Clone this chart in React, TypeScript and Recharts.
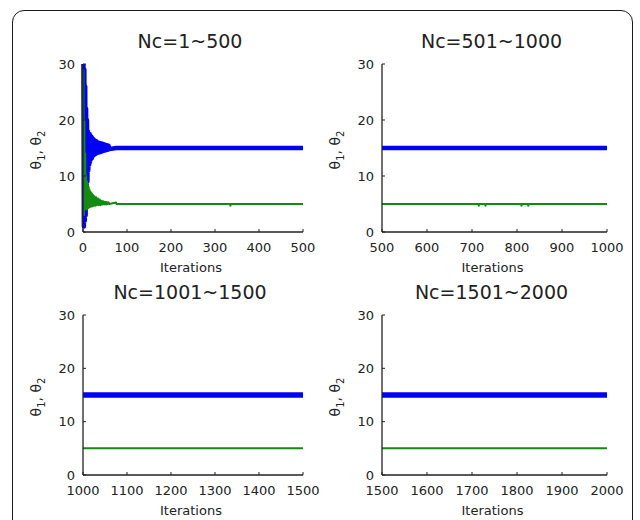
import { LineChart, Line, XAxis, YAxis } from "recharts";

const FONT = "'DejaVu Sans', Verdana, sans-serif";
const BLUE = "#0000f2";
const GREEN = "#138a13";
const INK = "#222";

const p1Iter = [
  1, 2, 3, 4, 5, 6, 7, 8, 9, 10, 11, 12, 13, 14, 15, 16, 17, 18, 19, 20, 21, 22,
  23, 24, 26, 28, 30, 32, 34, 36, 38, 40, 42, 44, 46, 48, 50, 52, 54, 56, 58, 60,
  75, 76, 334, 335, 336, 500,
];
const p1Theta1 = [
  30, 1, 29, 2, 26, 3, 22, 6, 20, 9, 18, 11, 17.5, 12, 17.5, 12.5, 17.2, 13, 17,
  13.2, 16.8, 13.5, 16.6, 13.7, 16.4, 13.9, 16.2, 14.1, 16, 14.2, 15.9, 14.3,
  15.8, 14.4, 15.7, 14.5, 15.6, 14.6, 15.5, 14.7, 15.4, 14.8, 15, 15, 15, 15,
  15, 15,
];
const p1Theta2 = [
  29, 3, 20, 4, 14, 4.5, 10, 4, 9, 4.2, 8.5, 4.3, 8, 4.4, 7.5, 4.5, 7.2, 4.5, 7,
  4.6, 6.8, 4.6, 6.6, 4.7, 6.4, 4.7, 6.2, 4.8, 6, 4.8, 5.8, 4.8, 5.6, 4.9, 5.5,
  4.9, 5.4, 4.9, 5.35, 5, 5.3, 5, 5.25, 5, 5, 4.7, 5, 5,
];

// Nc=501~1000
const p2Iter = [500, 714, 715, 716, 729, 730, 731, 809, 810, 811, 824, 825, 826, 1000];
const p2Theta1 = [15, 15, 15, 15, 15, 15, 15, 15, 15, 15, 15, 15, 15, 15];
const p2Theta2 = [5, 5, 4.7, 5, 5, 4.7, 5, 5, 4.7, 5, 5, 4.7, 5, 5];

// Nc=1001~1500 and Nc=1501~2000
const p3Iter = [1000, 1500];
const p3Theta1 = [15, 15];
const p3Theta2 = [5, 5];
const p4Iter = [1500, 2000];
const p4Theta1 = [15, 15];
const p4Theta2 = [5, 5];

const titles = ["Nc=1~500", "Nc=501~1000", "Nc=1001~1500", "Nc=1501~2000"];
const xTicks1 = [0, 100, 200, 300, 400, 500];
const xTicks2 = [500, 600, 700, 800, 900, 1000];
const xTicks3 = [1000, 1100, 1200, 1300, 1400, 1500];
const xTicks4 = [1500, 1600, 1700, 1800, 1900, 2000];
const yTicks = [0, 10, 20, 30];

const Y_AXIS_W = 40;
const margin = { top: 14, right: 17, bottom: 8, left: 23 };

const xLabel = (props: any) => {
  const vb = props.viewBox;
  return (
    <text
      x={vb.x + vb.width / 2 - 2}
      y={vb.y + 39.7}
      textAnchor="middle"
      fontSize={13}
      fontFamily={FONT}
      fill={INK}
    >
      Iterations
    </text>
  );
};

const yLabel = (props: any) => {
  const vb = props.viewBox;
  const cx = vb.x + vb.width - 42;
  const cy = vb.y + vb.height / 2 + 2;
  return (
    <text
      x={cx}
      y={cy}
      transform={`rotate(-90 ${cx} ${cy})`}
      textAnchor="middle"
      fontSize={14}
      fontFamily={FONT}
      fill={INK}
    >
      θ<tspan dy={4} fontSize={10}>1</tspan>
      <tspan dy={-4}>, θ</tspan>
      <tspan dy={4} fontSize={10}>2</tspan>
    </text>
  );
};

interface PanelProps {
  iter: number[];
  theta1: number[];
  theta2: number[];
  ticks: number[];
  title: string;
  left: number;
  top: number;
  width: number;
  height: number;
  blueWidth: number;
}

function Panel({ iter, theta1, theta2, ticks, title, left, top, width, height, blueWidth }: PanelProps) {
  const data = iter.map((x, i) => ({ x, t1: theta1[i], t2: theta2[i] }));
  const plotLeft = margin.left + Y_AXIS_W;
  const plotRight = width - margin.right;
  const tickStyle = { fontSize: 13, fill: INK, fontFamily: FONT };
  return (
    <div style={{ position: "absolute", left, top, width, height }}>
      <div
        style={{
          position: "absolute",
          left: plotLeft - 3,
          width: plotRight - plotLeft,
          top: margin.top - 35,
          lineHeight: "24px",
          fontSize: 19,
          fontFamily: FONT,
          color: INK,
          textAlign: "center",
          whiteSpace: "nowrap",
        }}
      >
        {title}
      </div>
      <LineChart width={width} height={height} data={data} margin={margin}>
        <XAxis
          type="number"
          dataKey="x"
          domain={[ticks[0], ticks[ticks.length - 1]]}
          ticks={ticks}
          interval={0}
          height={40}
          tickSize={-3}
          tickMargin={14}
          axisLine={{ stroke: INK, strokeWidth: 1.3 }}
          tickLine={{ stroke: INK }}
          tick={tickStyle}
          label={xLabel}
        />
        <YAxis
          type="number"
          domain={[0, 30]}
          ticks={yTicks}
          interval={0}
          width={Y_AXIS_W}
          tickSize={-3}
          tickMargin={11}
          axisLine={{ stroke: INK, strokeWidth: 1.3 }}
          tickLine={{ stroke: INK }}
          tick={tickStyle}
          label={yLabel}
        />
        <Line
          dataKey="t1"
          type="linear"
          stroke={BLUE}
          strokeWidth={blueWidth}
          strokeLinejoin="round"
          dot={false}
          activeDot={false}
          isAnimationActive={false}
        />
        <Line
          dataKey="t2"
          type="linear"
          stroke={GREEN}
          strokeWidth={2}
          strokeLinejoin="round"
          dot={false}
          activeDot={false}
          isAnimationActive={false}
        />
      </LineChart>
    </div>
  );
}

export default function App() {
  return (
    <div
      style={{
        position: "absolute",
        left: 0,
        top: 0,
        width: 640,
        height: 520,
        overflow: "hidden",
        background: "#fff",
      }}
    >
      <div
        style={{
          position: "absolute",
          left: 12,
          top: 10,
          width: 621,
          height: 560,
          border: "1.5px solid #1a1a1a",
          borderRadius: 12,
          boxSizing: "border-box",
        }}
      />
      <Panel iter={p1Iter} theta1={p1Theta1} theta2={p1Theta2} ticks={xTicks1} title={titles[0]}
        left={20} top={50} width={300} height={230} blueWidth={4.5} />
      <Panel iter={p2Iter} theta1={p2Theta1} theta2={p2Theta2} ticks={xTicks2} title={titles[1]}
        left={319} top={50} width={305} height={230} blueWidth={4.5} />
      <Panel iter={p3Iter} theta1={p3Theta1} theta2={p3Theta2} ticks={xTicks3} title={titles[2]}
        left={20} top={301} width={300} height={222} blueWidth={5.5} />
      <Panel iter={p4Iter} theta1={p4Theta1} theta2={p4Theta2} ticks={xTicks4} title={titles[3]}
        left={319} top={301} width={305} height={222} blueWidth={5.5} />
    </div>
  );
}
